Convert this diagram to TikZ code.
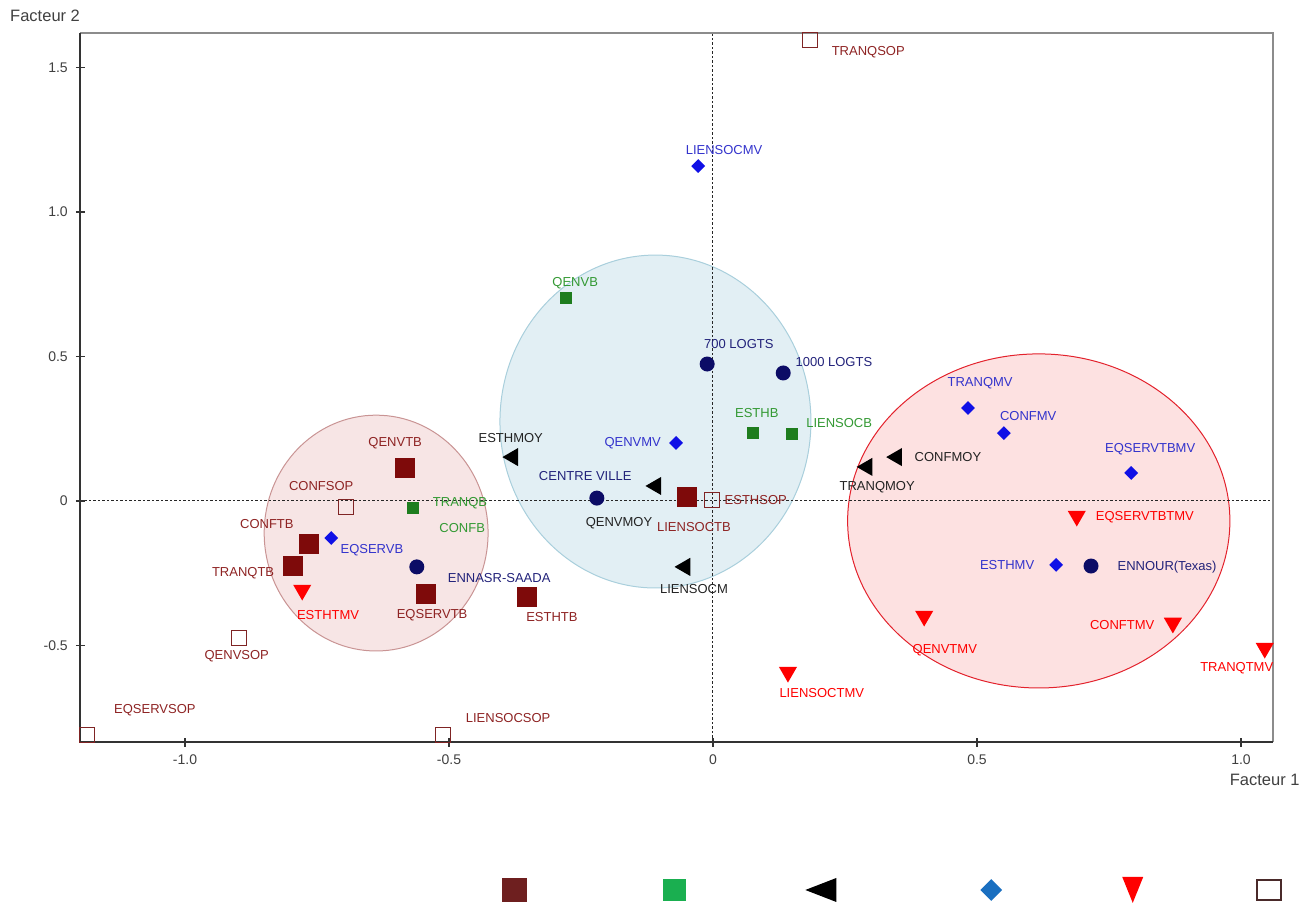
\documentclass[tikz,border=0pt]{standalone}
\usepackage{fontspec}
\setmainfont{Liberation Sans}
\usepackage{tikz}
\usetikzlibrary{shapes.geometric}

\definecolor{fullred}{HTML}{7E0A0A}
\definecolor{fulltxt}{HTML}{8E2323}
\definecolor{leafgreen}{HTML}{1E7D1E}
\definecolor{leaftxt}{HTML}{339933}
\definecolor{diablue}{HTML}{1010E6}
\definecolor{diatxt}{HTML}{3333CC}
\definecolor{sitenavy}{HTML}{0C0C66}
\definecolor{sitetxt}{HTML}{22227A}
\definecolor{moytxt}{HTML}{222222}
\definecolor{sopred}{HTML}{7F2424}
\definecolor{zonepink}{HTML}{F7E5E5}
\definecolor{zonepinkline}{HTML}{C99494}
\definecolor{zoneblue}{HTML}{E2EFF4}
\definecolor{zoneblueline}{HTML}{A9CFDC}
\definecolor{zonered}{HTML}{FDE1E1}
\definecolor{zoneredline}{HTML}{E3222C}

\begin{document}
\begin{tikzpicture}[
        x=528pt, y=289pt,
        modfull/.style={rectangle, fill=fullred, inner sep=0, minimum size=20pt},
        modgreen/.style={rectangle, fill=leafgreen, inner sep=0, minimum size=12pt},
        modmoy/.style={regular polygon, regular polygon sides=3, shape border rotate=90, fill=black, inner sep=0, minimum size=21pt},
        modmv/.style={diamond, fill=diablue, inner sep=0, minimum size=14pt},
        modtmv/.style={regular polygon, regular polygon sides=3, shape border rotate=180, fill=red, inner sep=0, minimum size=21pt},
        modsop/.style={rectangle, draw=sopred, line width=1.1pt, inner sep=0, minimum size=15pt},
        site/.style={circle, fill=sitenavy, inner sep=0, minimum size=15pt},
        lbl/.style={inner sep=0, font=\fontsize{13}{15}\selectfont},
        ticklbl/.style={inner sep=0, text=black!75, font=\fontsize{14}{16}\selectfont},
        axistitle/.style={inner sep=0, text=black!75, font=\fontsize{16.5}{19}\selectfont},
        zero/.style={black!85, line width=1pt, dash pattern=on 2.5pt off 2pt},
        tick/.style={black!80, line width=1.2pt},
    ]
        \useasboundingbox (-1.3504,-1.4048) rectangle (1.1402,1.7336);

        % frame corners
        \coordinate (sw) at (-1.199,-0.834);
        \coordinate (ne) at (1.060,1.618);

        % groups
        \draw[fill=zonepink, draw=zonepinkline, line width=1pt] (-0.638,-0.111) ellipse [x radius=0.212, y radius=0.408];
        \draw[fill=zoneblue, draw=zoneblueline, line width=1pt] (-0.109,0.275) ellipse [x radius=0.2945, y radius=0.576];
        \draw[fill=zonered, draw=zoneredline, line width=1pt] (0.617,-0.069) ellipse [x radius=0.362, y radius=0.578];

        % axes
        \draw[zero] (sw |- 0,0) -- (ne |- 0,0);
        \draw[zero] (sw -| 0,0) -- (ne -| 0,0);
        \draw[black!45, line width=2pt] (sw |- ne) -- (ne) -- (ne |- sw);
        \draw[black!80, line width=1.5pt] (sw |- ne) -- (sw) -- (ne |- sw);

        \draw[tick] (-1.0,-0.834) ++(0,4pt) -- ++(0,-9pt);
        \draw[tick] (-0.5,-0.834) ++(0,4pt) -- ++(0,-9pt);
        \draw[tick] (0,-0.834) ++(0,4pt) -- ++(0,-9pt);
        \draw[tick] (0.5,-0.834) ++(0,4pt) -- ++(0,-9pt);
        \draw[tick] (1.0,-0.834) ++(0,4pt) -- ++(0,-9pt);
        \draw[tick] (-1.199,1.5) ++(-4pt,0) -- ++(9pt,0);
        \draw[tick] (-1.199,1.0) ++(-4pt,0) -- ++(9pt,0);
        \draw[tick] (-1.199,0.5) ++(-4pt,0) -- ++(9pt,0);
        \draw[tick] (-1.199,0) ++(-4pt,0) -- ++(9pt,0);
        \draw[tick] (-1.199,-0.5) ++(-4pt,0) -- ++(9pt,0);

        \node[ticklbl, anchor=north] (xt1) at ([yshift=-13pt]-1.0,-0.834) {-1.0};
        \node[ticklbl, anchor=north] (xt2) at ([yshift=-13pt]-0.5,-0.834) {-0.5};
        \node[ticklbl, anchor=north] (xt3) at ([yshift=-13pt]0,-0.834) {0};
        \node[ticklbl, anchor=north] (xt4) at ([yshift=-13pt]0.5,-0.834) {0.5};
        \node[ticklbl, anchor=north] (xt5) at ([yshift=-13pt]1.0,-0.834) {1.0};
        \node[ticklbl, anchor=east] (yt1) at ([xshift=-12pt]-1.199,1.5) {1.5};
        \node[ticklbl, anchor=east] (yt2) at ([xshift=-12pt]-1.199,1.0) {1.0};
        \node[ticklbl, anchor=east] (yt3) at ([xshift=-12pt]-1.199,0.5) {0.5};
        \node[ticklbl, anchor=east] (yt4) at ([xshift=-12pt]-1.199,0) {0};
        \node[ticklbl, anchor=east] (yt5) at ([xshift=-12pt]-1.199,-0.5) {-0.5};

        \node[axistitle] (fac2) at (-1.265,1.678) {Facteur 2};
        \node[axistitle] (fac1) at (1.045,-0.965) {Facteur 1};

        % modalities
        \node[modfull] (qenvtb) at (-0.583,0.114) {};
        \node[modfull] (conftb) at (-0.765,-0.149) {};
        \node[modfull] (tranqtb) at (-0.795,-0.225) {};
        \node[modfull] (eqservtb) at (-0.544,-0.322) {};
        \node[modfull] (esthtb) at (-0.352,-0.332) {};
        \node[modfull] (liensoctb) at (-0.049,0.014) {};

        \node[modgreen] (qenvb) at (-0.278,0.702) {};
        \node[modgreen] (tranqb) at (-0.568,-0.024) {};
        \node[modgreen] (esthb) at (0.076,0.235) {};
        \node[modgreen] (liensocb) at (0.150,0.232) {};

        \node[modmoy] (esthmoy) at (-0.379,0.152) {};
        \node[modmoy] (qenvmoy) at (-0.108,0.052) {};
        \node[modmoy] (liensocm) at (-0.053,-0.228) {};
        \node[modmoy] (tranqmoy) at (0.292,0.118) {};
        \node[modmoy] (confmoy) at (0.348,0.152) {};

        \node[modmv] (liensocmv) at (-0.028,1.159) {};
        \node[modmv] (qenvmv) at (-0.070,0.201) {};
        \node[modmv] (eqservb) at (-0.723,-0.128) {};
        \node[modmv] (tranqmv) at (0.483,0.322) {};
        \node[modmv] (confmv) at (0.551,0.235) {};
        \node[modmv] (eqservtbmv) at (0.792,0.097) {};
        \node[modmv] (esthmv) at (0.650,-0.221) {};

        \node[modtmv] (esthtmv) at (-0.778,-0.308) {};
        \node[modtmv] (eqservtbtmv) at (0.689,-0.052) {};
        \node[modtmv] (qenvtmv) at (0.400,-0.398) {};
        \node[modtmv] (conftmv) at (0.871,-0.422) {};
        \node[modtmv] (liensoctmv) at (0.142,-0.592) {};
        \node[modtmv] (tranqtmv) at (1.045,-0.509) {};

        \node[modsop] (tranqsop) at (0.184,1.595) {};
        \node[modsop] (confsop) at (-0.695,-0.021) {};
        \node[modsop] (esthsop) at (-0.002,0.003) {};
        \node[modsop] (qenvsop) at (-0.898,-0.474) {};
        \node[modsop] (eqservsop) at (-1.186,-0.810) {};
        \node[modsop] (liensocsop) at (-0.511,-0.810) {};

        \node[site] (logts700) at (-0.011,0.474) {};
        \node[site] (logts1000) at (0.133,0.443) {};
        \node[site] (centreville) at (-0.220,0.010) {};
        \node[site] (ennasr) at (-0.561,-0.228) {};
        \node[site] (ennour) at (0.716,-0.225) {};

        % labels
        \node[lbl, text=diatxt] (liensocmv_l) at (0.021,1.215) {LIENSOCMV};
        \node[lbl, text=fulltxt] (tranqsop_l) at (0.294,1.554) {TRANQSOP};
        \node[lbl, text=leaftxt] (qenvb_l) at (-0.261,0.754) {QENVB};
        \node[lbl, text=sitetxt] (logts700_l) at (0.049,0.543) {700 LOGTS};
        \node[lbl, text=sitetxt] (logts1000_l) at (0.229,0.481) {1000 LOGTS};
        \node[lbl, text=leaftxt] (esthb_l) at (0.083,0.304) {ESTHB};
        \node[lbl, text=leaftxt] (liensocb_l) at (0.239,0.270) {LIENSOCB};
        \node[lbl, text=diatxt] (qenvmv_l) at (-0.152,0.201) {QENVMV};
        \node[lbl, text=moytxt] (esthmoy_l) at (-0.383,0.218) {ESTHMOY};
        \node[lbl, text=sitetxt] (centreville_l) at (-0.242,0.087) {CENTRE VILLE};
        \node[lbl, text=fulltxt] (liensoctb_l) at (-0.036,-0.090) {LIENSOCTB};
        \node[lbl, text=fulltxt] (esthsop_l) at (0.081,0.003) {ESTHSOP};
        \node[lbl, text=moytxt] (qenvmoy_l) at (-0.178,-0.076) {QENVMOY};
        \node[lbl, text=moytxt] (liensocm_l) at (-0.036,-0.304) {LIENSOCM};
        \node[lbl, text=sitetxt] (ennasr_l) at (-0.405,-0.266) {ENNASR-SAADA};
        \node[lbl, text=fulltxt] (esthtb_l) at (-0.305,-0.401) {ESTHTB};
        \node[lbl, text=fulltxt] (qenvtb_l) at (-0.602,0.201) {QENVTB};
        \node[lbl, text=fulltxt] (confsop_l) at (-0.742,0.052) {CONFSOP};
        \node[lbl, text=leaftxt] (tranqb_l) at (-0.479,-0.007) {TRANQB};
        \node[lbl, text=leaftxt] (confb_l) at (-0.475,-0.093) {CONFB};
        \node[lbl, text=fulltxt] (conftb_l) at (-0.845,-0.080) {CONFTB};
        \node[lbl, text=fulltxt] (tranqtb_l) at (-0.890,-0.249) {TRANQTB};
        \node[lbl, text=diatxt] (eqservb_l) at (-0.646,-0.170) {EQSERVB};
        \node[lbl, text=fulltxt] (eqservtb_l) at (-0.532,-0.394) {EQSERVTB};
        \node[lbl, text=red] (esthtmv_l) at (-0.729,-0.394) {ESTHTMV};
        \node[lbl, text=fulltxt] (qenvsop_l) at (-0.902,-0.536) {QENVSOP};
        \node[lbl, text=fulltxt] (eqservsop_l) at (-1.057,-0.723) {EQSERVSOP};
        \node[lbl, text=fulltxt] (liensocsop_l) at (-0.388,-0.751) {LIENSOCSOP};
        \node[lbl, text=red] (liensoctmv_l) at (0.206,-0.664) {LIENSOCTMV};
        \node[lbl, text=diatxt] (tranqmv_l) at (0.506,0.408) {TRANQMV};
        \node[lbl, text=diatxt] (confmv_l) at (0.597,0.294) {CONFMV};
        \node[lbl, text=moytxt] (confmoy_l) at (0.445,0.152) {CONFMOY};
        \node[lbl, text=moytxt] (tranqmoy_l) at (0.311,0.048) {TRANQMOY};
        \node[lbl, text=diatxt] (eqservtbmv_l) at (0.828,0.180) {EQSERVTBMV};
        \node[lbl, text=red] (eqservtbtmv_l) at (0.818,-0.055) {EQSERVTBTMV};
        \node[lbl, text=diatxt] (esthmv_l) at (0.557,-0.221) {ESTHMV};
        \node[lbl, text=sitetxt] (ennour_l) at (0.860,-0.228) {ENNOUR(Texas)};
        \node[lbl, text=red] (qenvtmv_l) at (0.439,-0.516) {QENVTMV};
        \node[lbl, text=red] (conftmv_l) at (0.775,-0.429) {CONFTMV};
        \node[lbl, text=red] (tranqtmv_l) at (0.992,-0.578) {TRANQTMV};

        % legend
        \node[rectangle, fill={rgb,255:red,110;green,31;blue,31}, inner sep=0, minimum width=25pt, minimum height=24pt] (leg1) at (-0.375,-1.346) {};
        \node[rectangle, fill={rgb,255:red,26;green,175;blue,80}, inner sep=0, minimum width=23pt, minimum height=22pt] (leg2) at (-0.072,-1.346) {};
        \node[isosceles triangle, isosceles triangle stretches, shape border rotate=180, fill=black, inner sep=0, minimum width=24pt, minimum height=31pt] (leg3) at (0.218,-1.346) {};
        \node[diamond, fill={rgb,255:red,26;green,111;blue,192}, inner sep=0, minimum width=22pt, minimum height=22pt] (leg4) at (0.527,-1.346) {};
        \node[isosceles triangle, isosceles triangle stretches, shape border rotate=270, fill=red, inner sep=0, minimum width=21pt, minimum height=26pt] (leg5) at ([yshift=6pt]0.795,-1.346) {};
        \node[rectangle, draw={rgb,255:red,74;green,42;blue,42}, line width=1.5pt, inner sep=0, minimum width=24pt, minimum height=20pt] (leg6) at (1.053,-1.346) {};
    \end{tikzpicture}
\end{document}
